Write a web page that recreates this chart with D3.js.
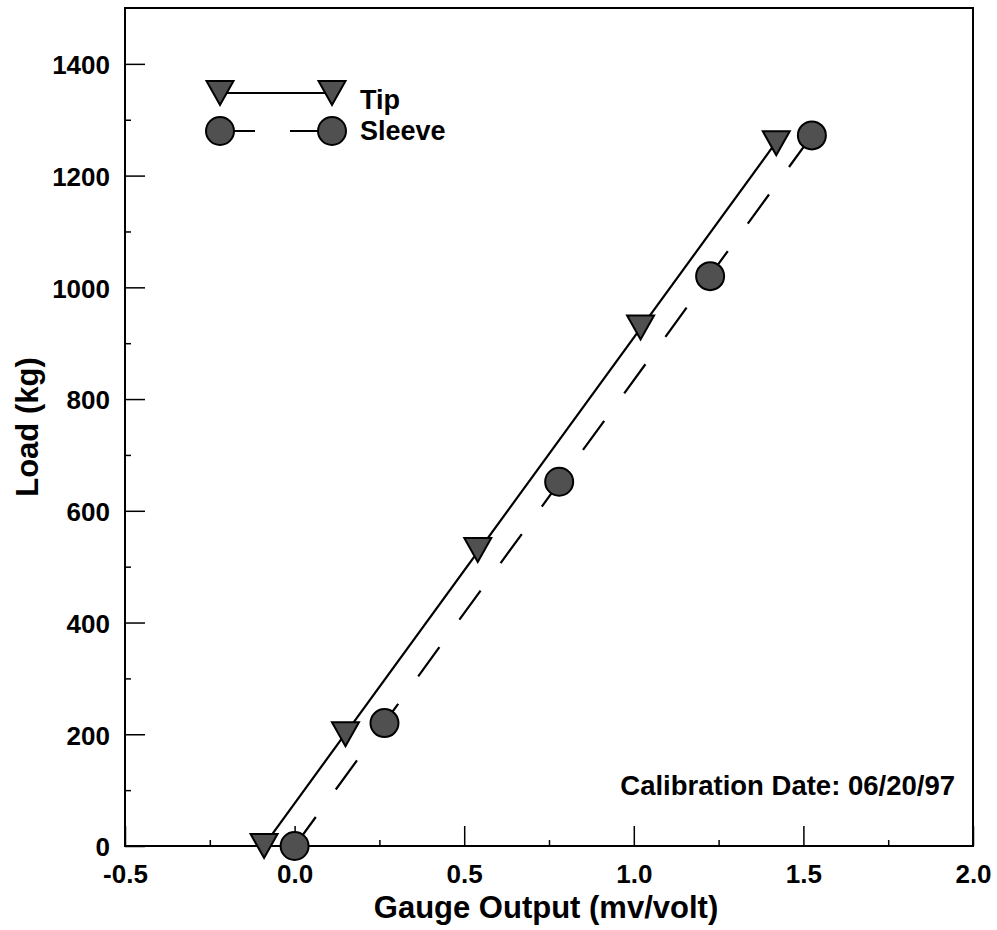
<!DOCTYPE html>
<html>
<head>
<meta charset="utf-8">
<script src="https://cdn.jsdelivr.net/npm/d3@7"></script>
<style>
  body { margin: 0; background: #fff; }
  text { font-family: "Liberation Sans", Arial, sans-serif; font-weight: bold; fill: #000; }
</style>
</head>
<body>
<div id="chart"></div>
<script>
// data
const tipX = [-0.09, 0.15, 0.54, 1.02, 1.42];
const tipY = [0, 200, 530, 928, 1258];
const sleeveX = [0.0, 0.265, 0.78, 1.225, 1.525];
const sleeveY = [0, 220, 652, 1020, 1272];

const xMajor = [-0.5, 0.0, 0.5, 1.0, 1.5, 2.0];
const xMinor = [-0.25, 0.25, 0.75, 1.25, 1.75];
const yMajor = [0, 200, 400, 600, 800, 1000, 1200, 1400];
const yMinor = [100, 300, 500, 700, 900, 1100, 1300];

const W = 997, H = 930;
const pL = 125, pR = 973, pT = 8, pB = 846;

const svg = d3.select("#chart")
  .append("svg")
    .attr("width", W)
    .attr("height", H);

const x = d3.scaleLinear().domain([-0.5, 2.0]).range([pL, pR]);
const y = d3.scaleLinear().domain([0, 1500]).range([pB, pT]);

// plain hyphen for negatives, like the original
const fmtX = d => d.toFixed(1);

// minor ticks first
svg.append("g")
  .attr("transform", `translate(0,${pB})`)
  .call(d3.axisBottom(x).tickValues(xMinor).tickSize(-6).tickFormat(""))
  .call(g => g.select(".domain").remove());
svg.append("g")
  .attr("transform", `translate(${pL},0)`)
  .call(d3.axisLeft(y).tickValues(yMinor).tickSize(-6).tickFormat(""))
  .call(g => g.select(".domain").remove());

// major ticks + labels
const xAxis = svg.append("g")
  .attr("transform", `translate(0,${pB})`)
  .call(d3.axisBottom(x).tickValues(xMajor).tickSize(-20).tickPadding(19).tickFormat(fmtX))
  .call(g => g.select(".domain").remove());
xAxis.selectAll("text").style("font-size", "26px").style("font-family", "Liberation Sans, Arial").style("font-weight", "bold");

const yAxis = svg.append("g")
  .attr("transform", `translate(${pL},0)`)
  .call(d3.axisLeft(y).tickValues(yMajor).tickSize(-20).tickPadding(15).tickFormat(d3.format("d")))
  .call(g => g.select(".domain").remove());
yAxis.selectAll("text").style("font-size", "26px").style("font-family", "Liberation Sans, Arial").style("font-weight", "bold").attr("dy", "0.38em");

svg.selectAll(".tick line").attr("stroke", "#000").attr("stroke-width", 1.5);

// frame
svg.append("rect")
  .attr("x", pL).attr("y", pT)
  .attr("width", pR - pL).attr("height", pB - pT)
  .attr("fill", "none").attr("stroke", "#000").attr("stroke-width", 2);

// least squares fit line over the data range
function fit(xs, ys) {
  const mx = d3.mean(xs), my = d3.mean(ys);
  const b = d3.sum(xs, (v, i) => (v - mx) * (ys[i] - my)) / d3.sum(xs, v => (v - mx) * (v - mx));
  const a = my - b * mx;
  const x0 = d3.min(xs), x1 = d3.max(xs);
  return [[x0, a + b * x0], [x1, a + b * x1]];
}

const line = d3.line().x(d => x(d[0])).y(d => y(d[1]));

svg.append("path")
  .attr("d", line(fit(tipX, tipY)))
  .attr("fill", "none").attr("stroke", "#000").attr("stroke-width", 2.2);

svg.append("path")
  .attr("d", line(fit(sleeveX, sleeveY)))
  .attr("fill", "none").attr("stroke", "#000").attr("stroke-width", 2.2)
  .attr("stroke-dasharray", "36,34");

const markFill = "#505050";
const triPath = "M-13.5,-12L13.5,-12L0,12Z";

svg.selectAll(".tip")
  .data(tipX.map((v, i) => [v, tipY[i]]))
  .join("path")
    .attr("class", "tip")
    .attr("d", triPath)
    .attr("transform", d => `translate(${x(d[0])},${y(d[1])})`)
    .attr("fill", markFill).attr("stroke", "#000").attr("stroke-width", 2);

svg.selectAll(".sleeve")
  .data(sleeveX.map((v, i) => [v, sleeveY[i]]))
  .join("circle")
    .attr("class", "sleeve")
    .attr("cx", d => x(d[0]))
    .attr("cy", d => y(d[1]))
    .attr("r", 14)
    .attr("fill", markFill).attr("stroke", "#000").attr("stroke-width", 2);

// legend
const leg = svg.append("g");
leg.append("line").attr("x1", 220).attr("x2", 332).attr("y1", 93).attr("y2", 93)
  .attr("stroke", "#000").attr("stroke-width", 2.2);
[220, 332].forEach(cx => {
  leg.append("path").attr("d", triPath).attr("transform", `translate(${cx},93)`)
    .attr("fill", markFill).attr("stroke", "#000").attr("stroke-width", 2);
});
leg.append("line").attr("x1", 220).attr("x2", 332).attr("y1", 131).attr("y2", 131)
  .attr("stroke", "#000").attr("stroke-width", 2.2).attr("stroke-dasharray", "35,35");
[220, 332].forEach(cx => {
  leg.append("circle").attr("cx", cx).attr("cy", 131).attr("r", 14)
    .attr("fill", markFill).attr("stroke", "#000").attr("stroke-width", 2);
});
leg.append("text").attr("x", 360).attr("y", 109).style("font-size", "27px").text("Tip");
leg.append("text").attr("x", 360).attr("y", 140).style("font-size", "27px").text("Sleeve");

// annotation
svg.append("text")
  .attr("x", 955).attr("y", 795)
  .attr("text-anchor", "end")
  .style("font-size", "27.5px")
  .text("Calibration Date: 06/20/97");

// axis titles
svg.append("text")
  .attr("x", (pL + pR) / 2 - 3).attr("y", 918)
  .attr("text-anchor", "middle")
  .style("font-size", "31px")
  .text("Gauge Output (mv/volt)");

svg.append("text")
  .attr("transform", `translate(38,${(pT + pB) / 2}) rotate(-90)`)
  .attr("text-anchor", "middle")
  .style("font-size", "31px")
  .text("Load (kg)");
</script>
</body>
</html>
